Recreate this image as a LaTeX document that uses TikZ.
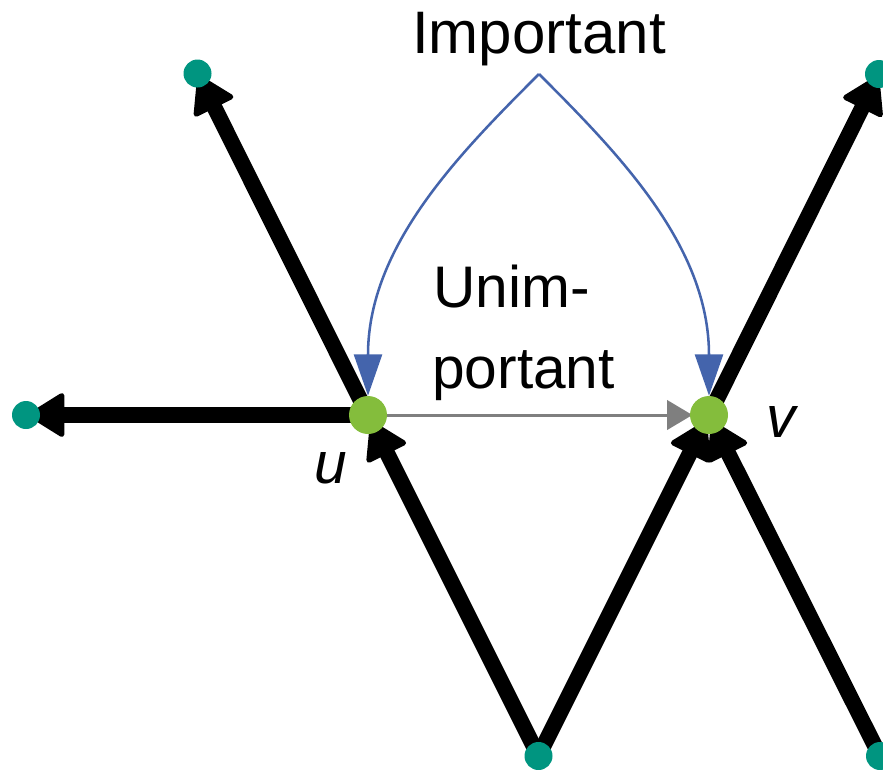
\documentclass[tikz,border=0pt]{standalone}
\usepackage{fontspec}
\setmainfont{Liberation Sans}
\usetikzlibrary{arrows.meta}
\pgfdeclarelayer{background}
\pgfsetlayers{background,main}
\definecolor{vgreen}{HTML}{84BD3C}
\definecolor{vteal}{HTML}{009580}
\definecolor{eblue}{HTML}{4464AC}
\definecolor{egray}{HTML}{7F7F7F}
\tikzset{
  mainv/.style={circle, fill=vgreen, draw=none, inner sep=0pt, minimum size=28.5pt},
  outv/.style={circle, fill=vteal, draw=none, inner sep=0pt, minimum size=21pt},
  heavy/.style={draw=black, line width=11.8pt, shorten >=-9pt, -{Triangle[width=35pt,length=29pt,line width=4pt,round]}},
  light/.style={draw=egray, line width=2.25pt, shorten >=-2pt, -{Triangle[width=22pt,length=19pt]}},
  imp/.style={draw=eblue, line width=1.9pt, -{Triangle[width=21pt,length=31pt]}},
  lbl/.style={font=\fontsize{44}{61}\selectfont, inner sep=0pt},
  ilbl/.style={font=\fontsize{44}{61}\selectfont\itshape, inner sep=0pt, anchor=base}
}
\begin{document}
\begin{tikzpicture}[x=0.75pt, y=-0.75pt]
\useasboundingbox (0,0) rectangle (883,769);
\node[mainv] (u) at (368,415) {};
\node[mainv] (v) at (709,415) {};
\node[outv] (tl) at (197.5,73.5) {};
\node[outv] (tr) at (879,74) {};
\node[outv] (l) at (26,415) {};
\node[outv] (b) at (538.5,756) {};
\node[outv] (br) at (880,756) {};
\coordinate (apex) at (539,74);
\node[lbl, anchor=base, font=\fontsize{45}{61}\selectfont] (imptext) at (539,53) {Important};
\node[lbl, anchor=base west] (un1) at (433,307) {Unim-};
\node[lbl, anchor=base west] (un2) at (432,388) {portant};
\node[ilbl] (ul) at (331,483) {u};
\node[ilbl] (vl) at (781,437) {v};
\begin{pgfonlayer}{background}
\draw[heavy] (u.center) -- (tl);
\draw[heavy] (u.center) -- (l);
\draw[heavy] (v.center) -- (tr);
\draw[heavy] (b.center) -- (u);
\draw[heavy] (b.center) -- (v);
\draw[heavy] (br.center) -- (v);
\draw[light] (u) -- (v);
\draw[imp] (apex) .. controls (459,154) and (368,246) .. (u.north);
\draw[imp] (apex) .. controls (619,154) and (709,246) .. (v.north);
\end{pgfonlayer}
\end{tikzpicture}
\end{document}
